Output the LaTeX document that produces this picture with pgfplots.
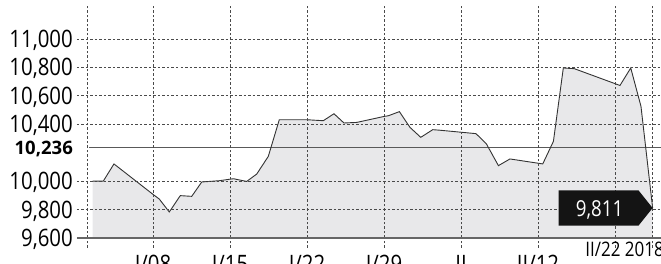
\documentclass[border=0pt]{standalone}
\usepackage{pgfplots}
\pgfplotsset{compat=1.18}
\usepackage{pgfplotstable}
\usepackage{fontspec}
\setmainfont{Open Sans}[FakeStretch=0.85]
\newfontfamily\wideopen{Open Sans}
\definecolor{areafill}{HTML}{E8E8EA}
\definecolor{gridc}{HTML}{4A4A4A}
\pgfplotstableread{
d v
2.52 10000
3.48 10000
4.45 10121
8.03 9905
8.57 9874
9.48 9783
10.48 9898
11.52 9893
12.43 9994
14.03 10003
15.30 10017
16.52 9998
17.43 10050
18.48 10174
19.48 10432
21.97 10432
23.48 10425
24.45 10474
25.36 10409
26.52 10413
29.00 10455
29.40 10460
30.40 10489
31.36 10378
32.34 10308
33.43 10362
34.10 10358
37.36 10334
38.30 10263
39.40 10109
40.45 10156
43.43 10121
44.40 10280
45.30 10796
46.30 10791
50.45 10673
51.43 10796
52.36 10526
53.42 9811
}\datatable
\begin{document}
\begin{tikzpicture}
\path[use as bounding box] (-77pt,-26pt) rectangle (584pt,238pt);
\clip (-77pt,-26pt) rectangle (584pt,238pt);
\begin{axis}[name=ax, scale only axis, width=584pt, height=233pt,
  xmin=1.09, xmax=54.18, ymin=9600, ymax=11239,
  axis on top, axis line style={draw=none},
  xtick={2,8,15,22,29,36,43,50,53.42},
  xticklabels={,I/08,I/15,I/22,I/29,II,II/12,,},
  ytick={9600,9800,10000,10400,10600,10800,11000},
  yticklabels={{9,600},{9,800},{10,000},{10,400},{10,600},{10,800},{11,000}},
  extra y ticks={10236},
  extra y tick labels={{\wideopen\bfseries\fontsize{18.5}{19}\selectfont 10{,}236}},
  extra y tick style={grid=none, yticklabel style={text height=13pt}},
  grid=major,
  major grid style={gridc, line width=0.9pt, dash pattern=on 2.5pt off 2pt},
  xtick style={gridc, line width=0.9pt, dash pattern=on 2.5pt off 2pt},
  ytick style={draw=none},
  tick align=outside, major tick length=10pt, xtick pos=bottom,
  xticklabel style={font=\fontsize{24}{24}\selectfont, text height=17pt, text depth=0pt, inner sep=0pt, anchor=north, yshift=-7pt},
  yticklabel style={font=\fontsize{24}{24}\selectfont, text height=17pt, text depth=0pt, inner sep=0pt, anchor=east, xshift=6pt},
]
\addplot[fill=areafill, draw=none] table[x=d,y=v]{\datatable} \closedcycle;
\draw[color=black!65, line width=1.1pt] (axis cs:2.18,10236) -- (axis cs:54.18,10236);
\addplot[draw=black!80, line width=0.9pt] table[x=d,y=v]{\datatable};
\coordinate (lastpt) at (axis cs:53.42,9811);
\end{axis}
\draw[black!60, line width=1.5pt] (ax.south west) -- (ax.south east);
\fill[black!92] (lastpt) -- ++(-14pt,17.5pt) -- ++(-80pt,0pt) -- ++(0pt,-35pt) -- ++(80pt,0pt) -- cycle;
\node[white, font=\fontsize{22}{22}\selectfont, text height=16pt, text depth=0pt, inner sep=0pt, anchor=center] at ([xshift=-53pt]lastpt) {9,811};
\node[anchor=north east, inner sep=0pt, text height=13pt, text depth=0pt, font=\fontsize{20}{20}\selectfont] at ([xshift=3pt, yshift=-5pt]ax.south east) {II/22 2018};
\end{tikzpicture}
\end{document}
